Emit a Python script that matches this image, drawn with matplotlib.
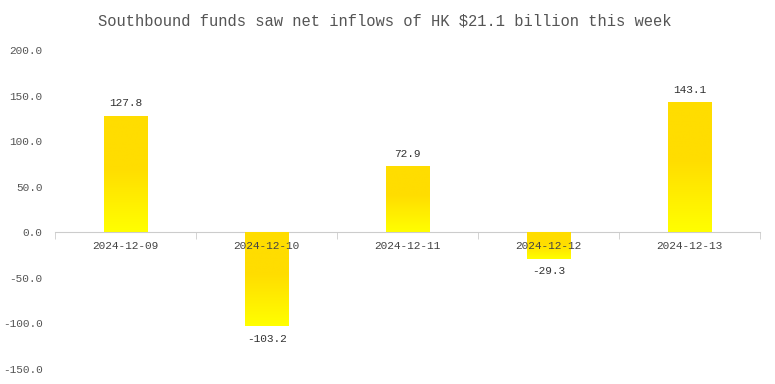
import numpy as np
import matplotlib
matplotlib.use("Agg")
from matplotlib import pyplot as plt
from matplotlib.colors import LinearSegmentedColormap

# Data
dates = ['2024-12-09', '2024-12-10', '2024-12-11', '2024-12-12', '2024-12-13']
flows = [127.8, -103.2, 72.9, -29.3, 143.1]
y_ticks = [200.0, 150.0, 100.0, 50.0, 0.0, -50.0, -100.0, -150.0]

plt.rcParams['font.family'] = ['Liberation Mono', 'DejaVu Sans Mono']

fig = plt.figure(figsize=(7.75, 3.84), dpi=100)
ax = fig.add_axes([0.071, 0.039, 0.910, 0.831])

x = np.arange(len(dates))
bars = ax.bar(x, flows, width=0.31, color='none', edgecolor='none')

# gold at top, yellow at bottom
cmap = LinearSegmentedColormap.from_list(
    'goldyellow', [(0.0, '#FFDD00'), (0.45, '#FFDD00'), (1.0, '#FFFF00')])
grad = np.linspace(0, 1, 256).reshape(-1, 1)
for b in bars:
    x0, w = b.get_x(), b.get_width()
    y0, h = b.get_y(), b.get_height()
    lo, hi = min(y0, y0 + h), max(y0, y0 + h)
    im = ax.imshow(grad, cmap=cmap, aspect='auto', origin='upper',
                   extent=[x0, x0 + w, lo, hi], zorder=1)
    im.set_clip_path(b)

for xi, v in zip(x, flows):
    if v >= 0:
        ax.text(xi, v + 8, f'{v:.1f}', ha='center', va='bottom', fontsize=8, color='#333333')
    else:
        ax.text(xi, v - 8, f'{v:.1f}', ha='center', va='top', fontsize=8, color='#333333')

ax.set_xlim(-0.5, len(dates) - 0.5)
ax.set_ylim(-150, 200)
ax.set_yticks(y_ticks)
ax.set_yticklabels([f'{t:.1f}' for t in y_ticks])
ax.tick_params(axis='y', length=0, pad=9, labelsize=8, labelcolor='#555555')

ax.set_xticks(x)
ax.set_xticklabels(dates)
ax.set_xticks(np.arange(-0.5, len(dates)), minor=True)
ax.tick_params(axis='x', which='major', length=0, pad=6, labelsize=8, labelcolor='#444444')
ax.tick_params(axis='x', which='minor', length=5, color='#cccccc')

for s in ['top', 'right', 'left']:
    ax.spines[s].set_visible(False)
ax.spines['bottom'].set_position(('data', 0))
ax.spines['bottom'].set_color('#cccccc')
ax.spines['bottom'].set_zorder(0.5)

fig.text(0.497, 0.945, 'Southbound funds saw net inflows of HK $21.1 billion this week',
         ha='center', va='center', fontsize=11.2, color='#555555')

fig.savefig('out.png', dpi=100)
